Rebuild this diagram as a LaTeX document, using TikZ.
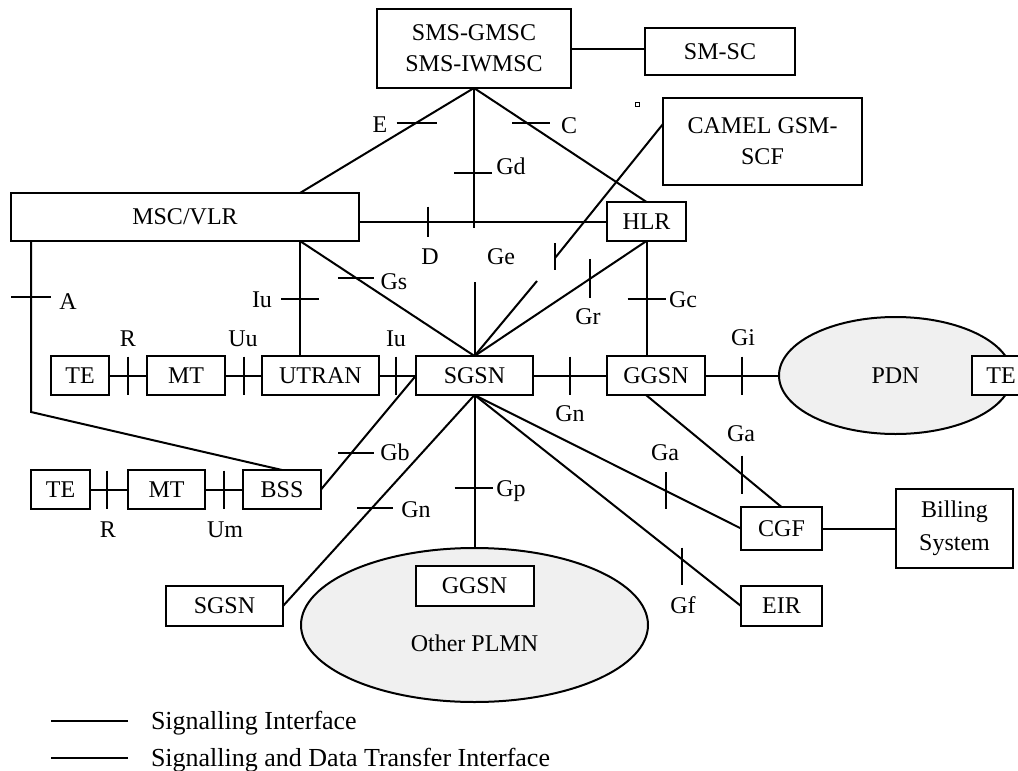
\documentclass[tikz,border=0pt]{standalone}
\usepackage{fontspec}
\setmainfont{Liberation Serif}
\usetikzlibrary{positioning,calc,shapes.geometric}

\begin{document}
\begin{tikzpicture}[
  x=0.5pt, y=-0.5pt,
  line width=1pt,
  font=\fontsize{12}{15.5}\selectfont,
  ne/.style={draw, fill=white, inner sep=0pt, outer sep=0pt, align=center, minimum height=19.5pt},
  net/.style={draw, ellipse, fill=gray!12, inner sep=0pt, outer sep=0pt},
  ifc/.style={inner sep=0pt, text height=8pt, text depth=0pt},
  legtxt/.style={ifc, anchor=west, font=\fontsize{13}{15}\selectfont}
]
\useasboundingbox (0,0) rectangle (1018,771);
% core nodes
\node[ne, minimum width=97pt, minimum height=39.5pt] (sms) at (474,48.5) {SMS-GMSC\\SMS-IWMSC};
\node[ne, minimum width=75pt, minimum height=23.5pt] (smsc) at (720,51.5) {SM-SC};
\node[ne, minimum width=99.5pt, minimum height=43.5pt] (camel) at (762.5,141.5) {CAMEL GSM-\\SCF};
\node[ne, minimum width=174pt, minimum height=24pt] (msc) at (185,217) {MSC/VLR};
\node[ne, minimum width=39.5pt] (hlr) at (646.5,221.5) {HLR};
% UMTS row
\node[ne, minimum width=29pt] (te1) at (80,375.5) {TE};
\node[ne, minimum width=39pt, right=19pt of te1] (mt1) {MT};
\node[ne, minimum width=58.5pt, right=18.5pt of mt1] (utran) {UTRAN};
\node[ne, minimum width=58.5pt, right=18.5pt of utran] (sgsn) {SGSN};
\node[ne, minimum width=49pt, right=37pt of sgsn] (ggsn) {GGSN};
\node[net, minimum width=116.5pt, minimum height=58.5pt, right=37pt of ggsn] (pdn) {PDN};
\node[ne, minimum width=29pt] (te3) at (1001,375.5) {TE};
% GSM row
\node[ne, minimum width=29.5pt] (te2) at (60.5,489.5) {TE};
\node[ne, minimum width=38.5pt, right=19pt of te2] (mt2) {MT};
\node[ne, minimum width=39pt, right=19pt of mt2] (bss) {BSS};
% lower nodes
\node[ne, minimum width=58.5pt, minimum height=20pt] (sgsn2) at (224.5,606) {SGSN};
\node[net, minimum width=173.5pt, minimum height=77pt] (plmn) at (474.5,625) {};
\node[ne, minimum width=59pt, minimum height=20pt] (ggsn2) at (474.5,586) {GGSN};
\node[ifc] (plmnlbl) at (474.5,643) {Other PLMN};
\node[ne, minimum width=40.5pt, minimum height=21.5pt] (cgf) at (781.5,528.5) {CGF};
\node[ne, minimum width=58.5pt, minimum height=39.5pt, font=\fontsize{12}{16.5}\selectfont] (bill) at (954.5,528.5) {Billing\\System};
\node[ne, minimum width=40.5pt, minimum height=20pt] (eir) at (781.5,606) {EIR};
% free ends
\coordinate (mscT) at ([xshift=57.5pt]msc.north);
\coordinate (mscB) at ([xshift=57.5pt]msc.south);
\coordinate (mscA) at ([xshift=-77pt]msc.south);
\coordinate (aBend) at (31,412);
\coordinate (gdEnd) at (474,228);
\coordinate (geTop) at ([yshift=37pt]sgsn.north);
\coordinate (geLow) at (537,281);
\coordinate (camIn) at ([yshift=8.75pt]camel.west);
\coordinate (camEnd) at (555,258);
\coordinate (ggsnB) at ([xshift=-5pt]ggsn.south);
% SMS links
\draw (sms.east) -- (sms.east -| smsc.west);
\draw (sms.south) -- (mscT);
\draw (sms.south) -- (hlr.north);
\draw (sms.south) -- (gdEnd);
\draw ($(sms.south)!0.33!(mscT)$) +(-20,0) -- +(20,0);
\draw ($(sms.south)!0.31!(hlr.north)$) +(-15,0) -- +(23,0);
\draw ($(sms.south)!0.61!(gdEnd)$) +(-20,0) -- +(18,0);
\node[ifc] (lE) at (380,124) {E};
\node[ifc] (lC) at (569,125) {C};
\node[ifc] (lGd) at (511,166) {Gd};
% MSC/VLR and HLR
\draw (hlr.west) -- (hlr.west -| msc.east);
\draw ($(msc.east |- hlr.west)!0.28!(hlr.west)$) +(0,-15) -- +(0,15);
\node[ifc] (lD) at (430,256) {D};
\node[ifc] (lGe) at (501,256) {Ge};
\draw (mscB) -- (sgsn.north);
\draw (mscB) -- (mscB |- utran.north);
\draw (mscA) -- (aBend) -- (bss.north);
\draw ($(mscB)!0.32!(sgsn.north)$) +(-18,0) -- +(18,0);
\draw ($(mscB)!0.5!(mscB |- utran.north)$) +(-19,0) -- +(19,0);
\draw ($(mscA)!0.33!(aBend)$) +(-20,0) -- +(20,0);
\node[ifc] (lGs) at (394,281) {Gs};
\node[ifc] (lIu) at (262,299) {Iu};
\node[ifc] (lA) at (68,301) {A};
% CAMEL, HLR to SGSN/GGSN
\draw (camIn) -- (camEnd);
\draw (camEnd) +(0,-15) -- +(0,12);
\draw (geTop) -- (sgsn.north);
\draw (geLow) -- (sgsn.north);
\draw (sgsn.north) -- (hlr.south);
\draw ($(sgsn.north)!0.67!(hlr.south)$) +(0,-20) -- +(0,19);
\node[ifc] (lGr) at (588,316) {Gr};
\draw (hlr.south) -- (hlr.south |- ggsn.north);
\draw ($(hlr.south)!0.5!(hlr.south |- ggsn.north)$) +(-19,0) -- +(19,0);
\node[ifc] (lGc) at (683,299) {Gc};
\draw[line width=0.5pt] (635,102) rectangle (639,106);
% UMTS row links
\draw (te1.east) -- (mt1.west);
\draw (mt1.east) -- (utran.west);
\draw (utran.east) -- (sgsn.west);
\draw (sgsn.east) -- (ggsn.west);
\draw (ggsn.east) -- (pdn.west);
\draw ($(te1.east)!0.5!(mt1.west)$) +(0,-19) -- +(0,19);
\draw ($(mt1.east)!0.5!(utran.west)$) +(0,-19) -- +(0,19);
\draw ($(utran.east)!0.45!(sgsn.west)$) +(0,-19) -- +(0,19);
\draw ($(sgsn.east)!0.5!(ggsn.west)$) +(0,-19) -- +(0,19);
\draw ($(ggsn.east)!0.5!(pdn.west)$) +(0,-19) -- +(0,19);
\node[ifc] (lR1) at (128,338) {R};
\node[ifc] (lUu) at (243,338) {Uu};
\node[ifc] (lIu2) at (396,338) {Iu};
\node[ifc] (lGn1) at (570,413) {Gn};
\node[ifc] (lGi) at (743,337) {Gi};
% GSM row links
\draw (te2.east) -- (mt2.west);
\draw (mt2.east) -- (bss.west);
\draw ($(te2.east)!0.45!(mt2.west)$) +(0,-19) -- +(0,19);
\draw ($(mt2.east)!0.5!(bss.west)$) +(0,-19) -- +(0,19);
\node[ifc] (lR2) at (108,529) {R};
\node[ifc] (lUm) at (225,529) {Um};
\draw (bss.east) -- (sgsn.west);
\draw ($(bss.east)!0.32!(sgsn.west)$) +(-13,0) -- +(23,0);
\node[ifc] (lGb) at (395,452) {Gb};
% SGSN fan-out
\draw (sgsn.south) -- (sgsn2.east);
\draw (sgsn.south) -- (plmn.north);
\draw (sgsn.south) -- (cgf.west);
\draw (sgsn.south) -- (eir.west);
\draw (ggsnB) -- (cgf.north);
\draw (cgf.east) -- (bill.west);
\draw ($(sgsn.south)!0.535!(sgsn2.east)$) +(-15,0) -- +(21,0);
\draw ($(sgsn.south)!0.61!(plmn.north)$) +(-20,0) -- +(18,0);
\draw ($(sgsn.south)!0.72!(cgf.west)$) +(0,-19) -- +(0,18);
\draw ($(ggsnB)!0.71!(cgf.north)$) +(0,-19) -- +(0,19);
\draw ($(sgsn.south)!0.78!(eir.west)$) +(0,-12) -- +(0,25);
\node[ifc] (lGn2) at (416,509) {Gn};
\node[ifc] (lGp) at (511,488) {Gp};
\node[ifc] (lGa1) at (665,452) {Ga};
\node[ifc] (lGa2) at (741,433) {Ga};
\node[ifc] (lGf) at (683,605) {Gf};
% legend
\node[legtxt] (leg1) at (150,721) {Signalling Interface};
\node[legtxt] (leg2) at (150,758) {Signalling and Data Transfer Interface};
\draw ([xshift=-11pt]leg1.west) -- ++(-38.5pt,0);
\draw ([xshift=-11pt]leg2.west) -- ++(-38.5pt,0);
\end{tikzpicture}
\end{document}
